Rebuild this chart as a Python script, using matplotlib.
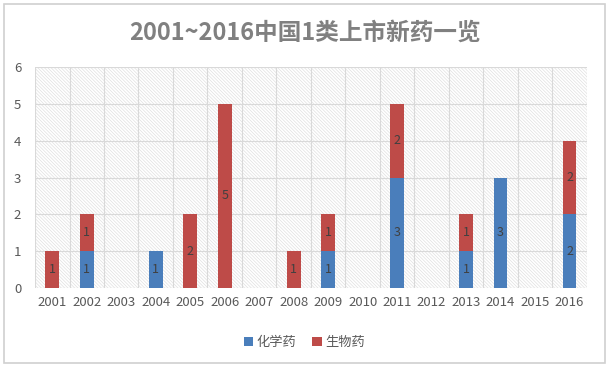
import numpy as np
import matplotlib.pyplot as plt
from matplotlib.patches import Rectangle

plt.rcParams['font.family'] = ['Noto Sans CJK SC', 'DejaVu Sans']

years = [str(y) for y in range(2001, 2017)]
chem = [0, 1, 0, 1, 0, 0, 0, 0, 1, 0, 3, 0, 1, 3, 0, 2]
bio = [1, 1, 0, 0, 2, 5, 0, 1, 1, 0, 2, 0, 1, 0, 0, 2]
series_names = ['化学药', '生物药']

blue = '#4A7EBB'
red = '#BE4B48'

fig = plt.figure(figsize=(6.09, 3.68), dpi=100)
fig.patches.append(Rectangle((0.006, 0.013), 0.988, 0.975, transform=fig.transFigure,
                             fill=False, edgecolor='#d0d0d0', lw=1.2))
ax = fig.add_axes([0.0575, 0.217, 0.906, 0.601])

x = np.arange(len(years))
ax.set_xlim(-0.5, len(years) - 0.5)
ax.set_ylim(0, 6)

# hatched background
plt.rcParams['hatch.linewidth'] = 0.5
bg = Rectangle((-0.5, 0), len(years), 6, facecolor='white', edgecolor='#e0e0e0',
               hatch='\\' * 10, lw=0, zorder=0)
ax.add_patch(bg)

for v in range(0, 7):
    ax.axhline(v, color='#d9d9d9', lw=0.8, zorder=1)
for b in np.arange(-0.5, len(years)):
    ax.axvline(b, color='#d9d9d9', lw=0.8, zorder=1)

w = 0.4
ax.bar(x, chem, w, color=blue, zorder=3, label=series_names[0])
ax.bar(x, bio, w, bottom=chem, color=red, zorder=3, label=series_names[1])

for i in range(len(years)):
    if chem[i]:
        ax.text(x[i], chem[i] / 2, str(chem[i]), ha='center', va='center',
                fontsize=9, color='#404040', zorder=4)
    if bio[i]:
        ax.text(x[i], chem[i] + bio[i] / 2, str(bio[i]), ha='center', va='center',
                fontsize=9, color='#404040', zorder=4)

for s in ax.spines.values():
    s.set_visible(False)
ax.tick_params(length=0, labelsize=9.5, labelcolor='#595959')
ax.set_xticks(x)
ax.set_xticklabels(years)
ax.set_yticks(range(0, 7))
ax.tick_params(axis='x', pad=6)
ax.tick_params(axis='y', pad=10)

fig.text(0.5, 0.91, '2001~2016中国1类上市新药一览', ha='center', va='center',
         fontsize=17, fontweight='bold', color='#808080')

fig.legend(loc='center', bbox_to_anchor=(0.5, 0.07), ncol=2, frameon=False,
           fontsize=9.5, handlelength=0.7, handleheight=0.7, handletextpad=0.3,
           columnspacing=1.2, labelcolor='#595959')

fig.savefig('out.png', dpi=100)
